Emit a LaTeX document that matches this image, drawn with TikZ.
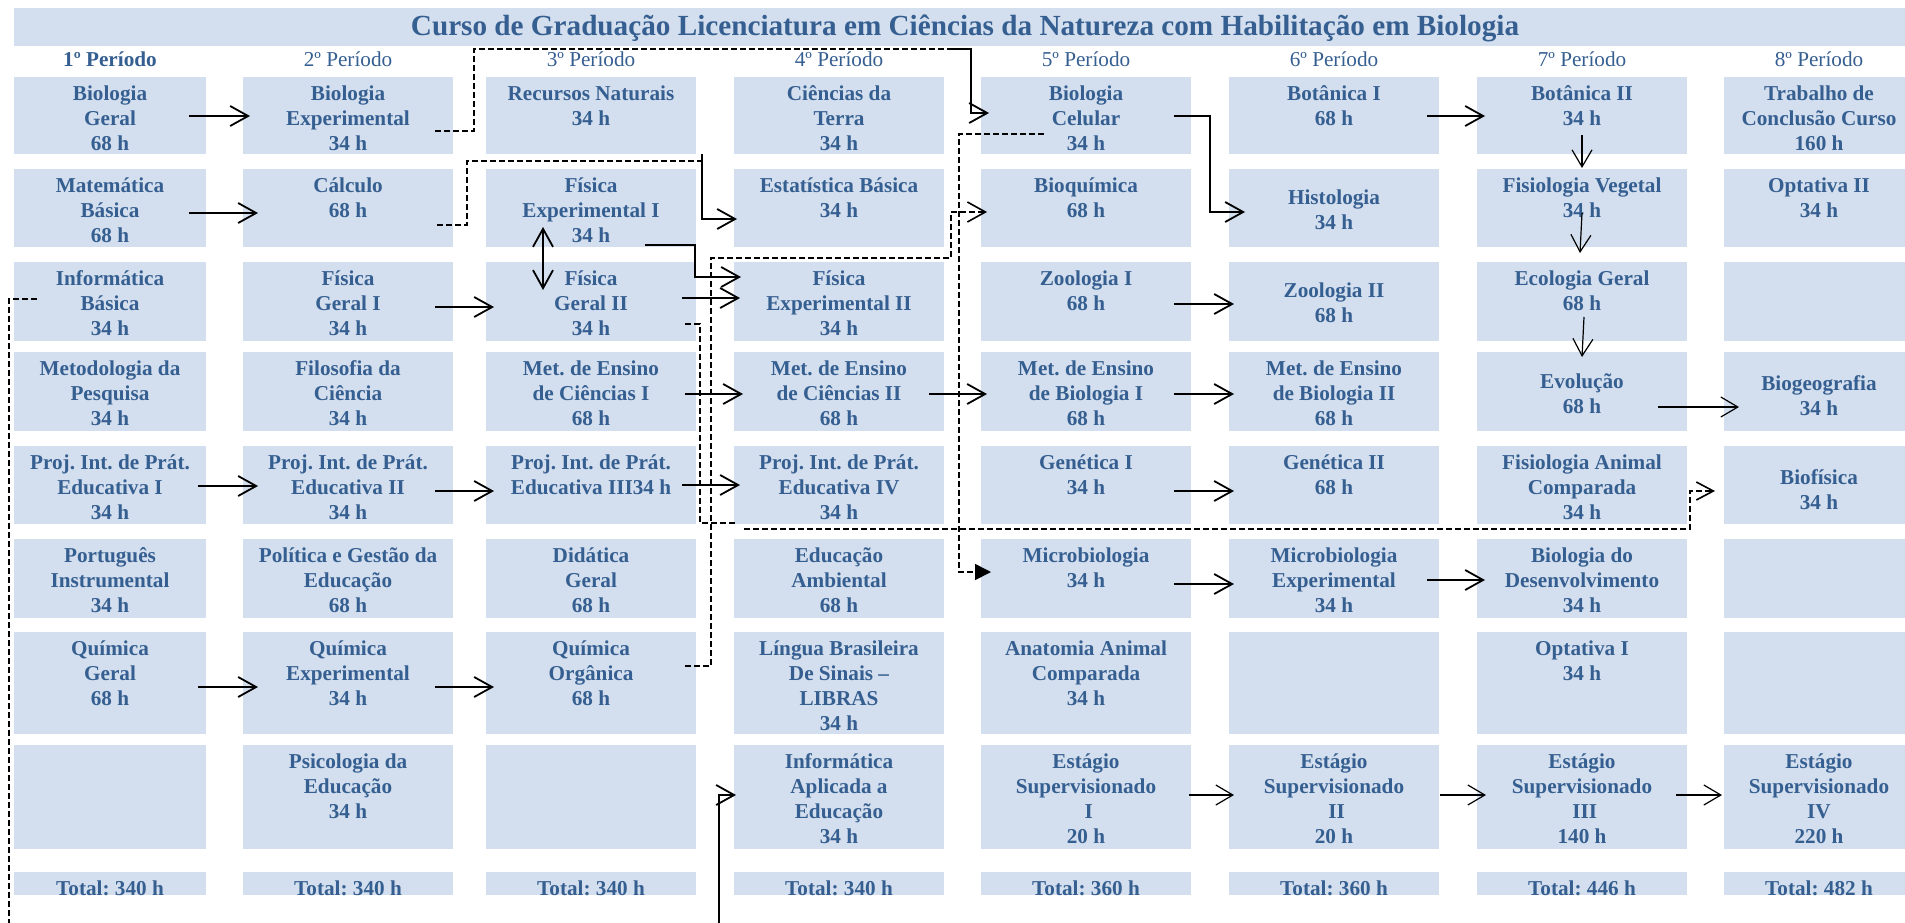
\documentclass[tikz,border=0pt]{standalone}
\usepackage{fontspec}
\setmainfont{Liberation Serif}
\usetikzlibrary{arrows.meta}
\definecolor{boxfill}{HTML}{D3DFEE}
\definecolor{txtblue}{HTML}{365F91}
\newcommand\celltext[4]{\node[txt] (t#1) at (#2,{#3-19}) {\rule{0pt}{9.5pt}#4};}
\frenchspacing
\begin{document}
\frenchspacing
\begin{tikzpicture}[x=0.5pt,y=-0.5pt,
  box/.style={fill=boxfill, draw=none, inner sep=0pt, outer sep=0pt},
  txt/.style={anchor=north, inner sep=0pt, align=center, text=txtblue, font=\bfseries\fontsize{10.6pt}{12.5pt}\selectfont\frenchspacing},
  hdr/.style={anchor=base, inner sep=0pt, text=txtblue, font=\fontsize{10.6pt}{12.5pt}\selectfont},
  tot/.style={anchor=base, inner sep=0pt, text=txtblue, font=\bfseries\fontsize{10.6pt}{12.5pt}\selectfont\frenchspacing},
  arr/.style={line width=0.9pt, -{Straight Barb[length=9pt,width=10pt]}},
  tarr/.style={line width=0.6pt, -{Straight Barb[length=8.5pt,width=10pt]}},
  darr/.style={line width=0.9pt, {Straight Barb[length=9pt,width=10pt]}-{Straight Barb[length=9pt,width=10pt]}},
  dl/.style={line width=0.8pt, dash pattern=on 3pt off 1.5pt}]
\useasboundingbox (0,0) rectangle (1905,922);
% title bar
\node[box, minimum width=953pt, minimum height=19pt] (titlebar) at (967,27) {};
\node[anchor=base, inner sep=0pt, text=txtblue, font=\bfseries\fontsize{14.6pt}{17pt}\selectfont] (title) at (965,35) {Curso de Graduação Licenciatura em Ciências da Natureza com Habilitação em Biologia};
% grid of boxes
\foreach \c/\x/\w in {1/110/96,2/348/105,3/591/105,4/839/105,5/1086/105,6/1334/105,7/1582/105,8/1819/95}{
  \foreach \r/\y/\h in {1/115.5/38.5,2/208/39,3/301.5/39.5,4/391.5/39.5,5/485/39,6/578.5/39.5,7/683/51,8/797/52,9/883.5/11.5}{
    \node[box, minimum width=\w pt, minimum height=\h pt] (b\c\r) at (\x,\y) {};
  }
}
% period headers
\node[hdr, font=\bfseries\fontsize{10.6pt}{12.5pt}\selectfont] (p1) at (110,66) {1º Período};
\node[hdr] (p2) at (348,66) {2º Período};
\node[hdr] (p3) at (591,66) {3º Período};
\node[hdr] (p4) at (839,66) {4º Período};
\node[hdr] (p5) at (1086,66) {5º Período};
\node[hdr] (p6) at (1334,66) {6º Período};
\node[hdr] (p7) at (1582,66) {7º Período};
\node[hdr] (p8) at (1819,66) {8º Período};
% column 1
\celltext{11}{110}{100}{Biologia\\Geral\\68 h}
\celltext{12}{110}{192}{Matemática\\Básica\\68 h}
\celltext{13}{110}{285}{Informática\\Básica\\34 h}
\celltext{14}{110}{375}{Metodologia da\\Pesquisa\\34 h}
\celltext{15}{110}{469}{Proj. Int. de Prát.\\Educativa I\\34 h}
\celltext{16}{110}{562}{Português\\Instrumental\\34 h}
\celltext{17}{110}{655}{Química\\Geral\\68 h}
% column 2
\celltext{21}{348}{100}{Biologia\\Experimental\\34 h}
\celltext{22}{348}{192}{Cálculo\\68 h}
\celltext{23}{348}{285}{Física\\Geral I\\34 h}
\celltext{24}{348}{375}{Filosofia da\\Ciência\\34 h}
\celltext{25}{348}{469}{Proj. Int. de Prát.\\Educativa II\\34 h}
\celltext{26}{348}{562}{Política e Gestão da\\Educação\\68 h}
\celltext{27}{348}{655}{Química\\Experimental\\34 h}
\celltext{28}{348}{768}{Psicologia da\\Educação\\34 h}
% column 3
\celltext{31}{591}{100}{Recursos Naturais\\34 h}
\celltext{32}{591}{192}{Física\\Experimental I\\34 h}
\celltext{33}{591}{285}{Física\\Geral II\\34 h}
\celltext{34}{591}{375}{Met. de Ensino\\de Ciências I\\68 h}
\celltext{35}{591}{469}{Proj. Int. de Prát.\\Educativa III34 h}
\celltext{36}{591}{562}{Didática\\Geral\\68 h}
\celltext{37}{591}{655}{Química\\Orgânica\\68 h}
% column 4
\celltext{41}{839}{100}{Ciências da\\Terra\\34 h}
\celltext{42}{839}{192}{Estatística Básica\\34 h}
\celltext{43}{839}{285}{Física\\Experimental II\\34 h}
\celltext{44}{839}{375}{Met. de Ensino\\de Ciências II\\68 h}
\celltext{45}{839}{469}{Proj. Int. de Prát.\\Educativa IV\\34 h}
\celltext{46}{839}{562}{Educação\\Ambiental\\68 h}
\celltext{47}{839}{655}{Língua Brasileira\\De Sinais –\\LIBRAS\\34 h}
\celltext{48}{839}{768}{Informática\\Aplicada a\\Educação\\34 h}
% column 5
\celltext{51}{1086}{100}{Biologia\\Celular\\34 h}
\celltext{52}{1086}{192}{Bioquímica\\68 h}
\celltext{53}{1086}{285}{Zoologia I\\68 h}
\celltext{54}{1086}{375}{Met. de Ensino\\de Biologia I\\68 h}
\celltext{55}{1086}{469}{Genética I\\34 h}
\celltext{56}{1086}{562}{Microbiologia\\34 h}
\celltext{57}{1086}{655}{Anatomia Animal\\Comparada\\34 h}
\celltext{58}{1086}{768}{Estágio\\Supervisionado\\\hspace*{.25em}I\\20 h}
% column 6
\celltext{61}{1334}{100}{Botânica I\\68 h}
\celltext{62}{1334}{204}{Histologia\\34 h}
\celltext{63}{1334}{297}{Zoologia II\\68 h}
\celltext{64}{1334}{375}{Met. de Ensino\\de Biologia II\\68 h}
\celltext{65}{1334}{469}{Genética II\\68 h}
\celltext{66}{1334}{562}{Microbiologia\\Experimental\\34 h}
\celltext{68}{1334}{768}{Estágio\\Supervisionado\\\hspace*{.25em}II\\20 h}
% column 7
\celltext{71}{1582}{100}{Botânica II\\34 h}
\celltext{72}{1582}{192}{Fisiologia Vegetal\\34 h}
\celltext{73}{1582}{285}{Ecologia Geral\\68 h}
\celltext{74}{1582}{388}{Evolução\\68 h}
\celltext{75}{1582}{469}{Fisiologia Animal\\Comparada\\34 h}
\celltext{76}{1582}{562}{Biologia do\\Desenvolvimento\\34 h}
\celltext{77}{1582}{655}{Optativa I\\34 h}
\celltext{78}{1582}{768}{Estágio\\Supervisionado\\\hspace*{.25em}III\\140 h}
% column 8
\celltext{81}{1819}{100}{Trabalho de\\Conclusão Curso\\160 h}
\celltext{82}{1819}{192}{Optativa II\\34 h}
\celltext{84}{1819}{390}{Biogeografia\\34 h}
\celltext{85}{1819}{484}{Biofísica\\34 h}
\celltext{88}{1819}{768}{Estágio\\Supervisionado\\IV\\220 h}
% totals
\node[tot] (s1) at (110,895) {Total: 340 h};
\node[tot] (s2) at (348,895) {Total: 340 h};
\node[tot] (s3) at (591,895) {Total: 340 h};
\node[tot] (s4) at (839,895) {Total: 340 h};
\node[tot] (s5) at (1086,895) {Total: 360 h};
\node[tot] (s6) at (1334,895) {Total: 360 h};
\node[tot] (s7) at (1582,895) {Total: 446 h};
\node[tot] (s8) at (1819,895) {Total: 482 h};
% solid straight arrows
\draw[arr] ([shift={(-17,.5)}]b11.east) -- ([shift={(7,.5)}]b21.west);
\draw[arr] ([shift={(-17,5)}]b12.east) -- ([shift={(15,5)}]b22.west);
\draw[arr] ([shift={(-18,5.5)}]b23.east) -- ([shift={(8,5.5)}]b33.west);
\draw[arr] ([shift={(-8,1)}]b15.east) -- ([shift={(15,1)}]b25.west);
\draw[arr] ([shift={(-18,6)}]b25.east) -- ([shift={(8,6)}]b35.west);
\draw[arr] ([shift={(-14,0)}]b35.east) -- ([shift={(6,0)}]b45.west);
\draw[arr] ([shift={(-11,2.5)}]b34.east) -- ([shift={(9,2.5)}]b44.west);
\draw[arr] ([shift={(-15,2.5)}]b44.east) -- ([shift={(6,2.5)}]b54.west);
\draw[arr] ([shift={(-17,2.5)}]b54.east) -- ([shift={(5,2.5)}]b64.west);
\draw[arr] ([shift={(-17,6)}]b55.east) -- ([shift={(5,6)}]b65.west);
\draw[arr] ([shift={(-17,5.5)}]b56.east) -- ([shift={(5,5.5)}]b66.west);
\draw[arr] ([shift={(-12,1.5)}]b66.east) -- ([shift={(8,1.5)}]b76.west);
\draw[arr] ([shift={(-17,2.5)}]b53.east) -- ([shift={(5,2.5)}]b63.west);
\draw[arr] ([shift={(-12,.5)}]b61.east) -- ([shift={(8,.5)}]b71.west);
\draw[arr] ([shift={(-8,4)}]b17.east) -- ([shift={(15,4)}]b27.west);
\draw[arr] ([shift={(-18,4)}]b27.east) -- ([shift={(8,4)}]b37.west);
% thin arrows
\draw[tarr] ([shift={(-2,-2)}]b58.east) -- ([shift={(5,-2)}]b68.west);
\draw[tarr] ([shift={(1,-2)}]b68.east) -- ([shift={(9,-2)}]b78.west);
\draw[tarr] ([shift={(-11,-2)}]b78.east) -- ([shift={(-2,-2)}]b88.west);
\draw[tarr] ([shift={(-29,15.5)}]b74.east) -- ([shift={(15,15.5)}]b84.west);
\draw[tarr] ([shift={(0,-19)}]b71.south) -- ([shift={(0,-1)}]b72.north);
\draw[tarr] ([shift={(0,-34)}]b72.south) -- ([shift={(-2,-9)}]b73.north);
\draw[tarr] ([shift={(2,-24)}]b73.south) -- ([shift={(0,5)}]b74.north);
% double arrow
\draw[darr] ([shift={(-48,-20)}]b32.south) -- ([shift={(-48,28)}]b33.north);
% elbow solid arrows
\draw[arr] ([shift={(-51,37)}]b32.east) -- ++(50,0) |- ([shift={(7,-24.5)}]b43.west);
\draw[arr] ([shift={(-14,-3.5)}]b33.east) -- ([shift={(6,-3.5)}]b43.west);
\draw[arr] ([shift={(-17,.5)}]b51.east) -- ++(36,0) |- ([shift={(16,4)}]b62.west);
\draw[arr] ([shift={(6,0)}]b31.south east) |- ([shift={(3,11)}]b42.west);
% dashed connectors
\coordinate (j1) at (952,49);
\coordinate (j2) at ([shift={(6,7)}]b31.south east);
\coordinate (j3) at (719,945);
\draw[dl] ([shift={(-18,15.5)}]b21.east) -- ++(39,0) |- (j1);
\draw[arr] (j1) -- ++(19,0) |- ([shift={(8,-2.5)}]b51.west);
\draw[dl] ([shift={(-16,17)}]b22.east) -- ++(30,0) |- (j2);
\draw[dl] ([shift={(-11,22.5)}]b33.east) -- ++(15,0) |- ([shift={(4,-1)}]b45.south west);
\draw[dl, -{Straight Barb[length=8.5pt,width=9pt]}] ([shift={(10,5)}]b45.south west) -- ++(946,0) |- ([shift={(-9,6)}]b85.west);
\draw[dl, -{Straight Barb[length=9pt,width=10pt]}] ([shift={(-11,-17)}]b37.east) -- ++(26,0) -- ++(0,-408) -- ++(240,0) |- ([shift={(6,4)}]b52.west);
\draw[dl, -{Triangle[length=8pt,width=8pt]}] ([shift={(-42,-20)}]b51.south) -- ++(-85,0) |- ([shift={(10,-6.5)}]b56.west);
\draw[dl] ([shift={(23,-2.5)}]b13.west) -- ++(-28,0) |- (j3);
\draw[arr] (j3) |- ([shift={(2,-2)}]b48.west);
\end{tikzpicture}
\end{document}
